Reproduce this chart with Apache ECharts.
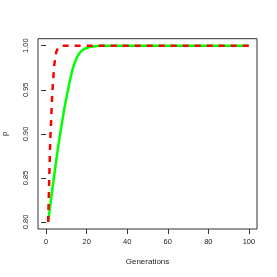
<!DOCTYPE html>
<html>
<head>
<meta charset="utf-8">
<script src="https://cdn.jsdelivr.net/npm/echarts@6/dist/echarts.min.js"></script>
<style>html,body{margin:0;padding:0;background:#fff;}#c{width:277px;height:277px;}</style>
</head>
<body>
<div id="c"></div>
<script>
const greenGen = [1,2,3,4,5,6,7,8,9,10,11,12,13,14,15,16,17,18,19,20,21,22,23,24,25,26,27,28,29,30,100];
const greenP = [0.800,0.818,0.836,0.853,0.870,0.886,0.901,0.915,0.929,0.941,0.952,0.963,0.973,0.980,0.986,0.990,0.993,0.995,0.9965,0.9975,0.9983,0.9988,0.9992,0.9995,0.9997,0.9998,0.9999,0.9999,1.0,1.0,1.0];
const redGen = [1,2,3,4,5,6,7,8,100];
const redP = [0.800,0.890,0.945,0.978,0.993,0.998,0.9995,1.0,1.0];
const xTicks = [0,20,40,60,80,100];
const yTicks = [0.80,0.85,0.90,0.95,1.00];

const font = 'Liberation Sans, Arial, sans-serif';
const chart = echarts.init(document.getElementById('c'), null, {renderer:'canvas'});
chart.setOption({
  animation:false,
  grid:{left:38, right:20, top:38.7, bottom:48, show:true, borderColor:'#333', borderWidth:1,
        backgroundColor:'transparent', containLabel:false, outerBoundsMode:'none'},
  xAxis:{type:'value', min:-4, max:104,
    name:'Generations', nameLocation:'middle', nameGap:29,
    nameTextStyle:{fontFamily:font, fontSize:8, color:'#222'},
    axisLine:{show:false},
    axisTick:{show:true, inside:false, length:5, lineStyle:{color:'#333'}, customValues:xTicks},
    axisLabel:{show:true, fontFamily:font, fontSize:7.5, color:'#222', margin:9, customValues:xTicks},
    splitLine:{show:false}},
  yAxis:{type:'value', min:0.792, max:1.008,
    name:'p', nameLocation:'middle', nameGap:29, nameRotate:90,
    nameTextStyle:{fontFamily:font, fontSize:8, color:'#222'},
    axisLine:{show:false},
    axisTick:{show:true, inside:false, length:5, lineStyle:{color:'#333'}, customValues:yTicks},
    axisLabel:{show:true, fontFamily:font, fontSize:7.5, color:'#222', margin:8, rotate:90,
      formatter:v=>v.toFixed(2), customValues:yTicks},
    splitLine:{show:false}},
  series:[
    {type:'line', data:greenGen.map((g,i)=>[g,greenP[i]]), symbol:'none', smooth:false,
     lineStyle:{color:'#00FF00', width:2.5}, z:2},
    {type:'line', data:redGen.map((g,i)=>[g,redP[i]]), symbol:'none', smooth:false,
     lineStyle:{color:'#FF0000', width:2.5, type:[6,6]}, z:3}
  ]
});
</script>
</body>
</html>
